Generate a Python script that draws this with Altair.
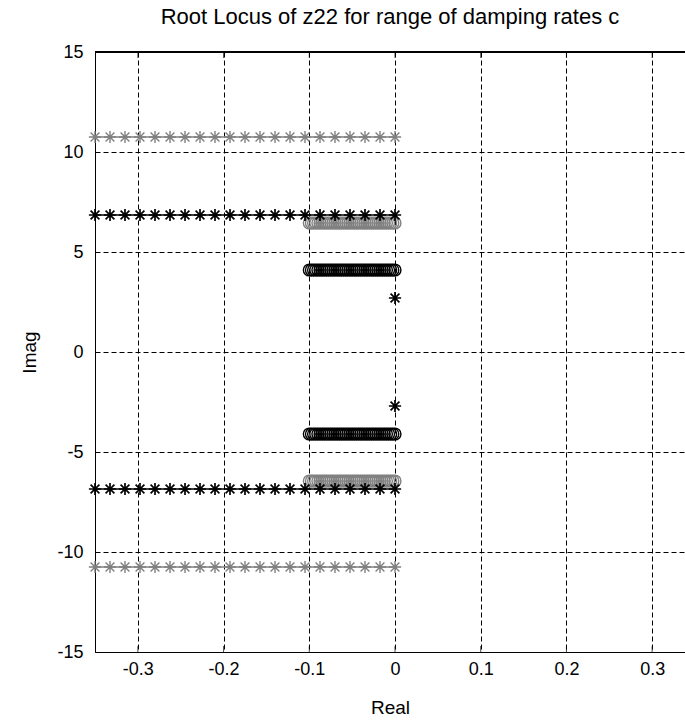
import altair as alt
import pandas as pd

# ---- data ----
star_re = [-0.35, -0.3325, -0.315, -0.2975, -0.28, -0.2625, -0.245, -0.2275, -0.21,
           -0.1925, -0.175, -0.1575, -0.14, -0.1225, -0.105, -0.0875, -0.07, -0.0525,
           -0.035, -0.0175, 0.0]
circle_re = [-0.1, -0.0975, -0.095, -0.0925, -0.09, -0.0875, -0.085, -0.0825, -0.08, -0.0775,
             -0.075, -0.0725, -0.07, -0.0675, -0.065, -0.0625, -0.06, -0.0575, -0.055, -0.0525,
             -0.05, -0.0475, -0.045, -0.0425, -0.04, -0.0375, -0.035, -0.0325, -0.03, -0.0275,
             -0.025, -0.0225, -0.02, -0.0175, -0.015, -0.0125, -0.01, -0.0075, -0.005, -0.0025, 0.0]
gray_star_im = 10.75
black_star_im = 6.85
gray_circle_im = 6.45
black_circle_im = 4.1
lone_star_re = [0.0]
lone_star_im = 2.7
x_ticks = [-0.3, -0.2, -0.1, 0, 0.1, 0.2, 0.3]
y_ticks = [-15, -10, -5, 0, 5, 10, 15]

GRAY = "#808080"
BLACK = "#000000"

rows = []
for sign, tag in ((1, "p"), (-1, "n")):
    for r in star_re:
        rows.append(dict(re=r, im=sign * gray_star_im, grp="gs" + tag, kind="gstar"))
    for r in star_re:
        rows.append(dict(re=r, im=sign * black_star_im, grp="bs" + tag, kind="bstar"))
    for r in circle_re:
        rows.append(dict(re=r, im=sign * gray_circle_im, grp="gc" + tag, kind="gcirc"))
    for r in circle_re:
        rows.append(dict(re=r, im=sign * black_circle_im, grp="bc" + tag, kind="bcirc"))
    for r in lone_star_re:
        rows.append(dict(re=r, im=sign * lone_star_im, grp="ls" + tag, kind="lstar"))
df = pd.DataFrame(rows)
tick_df = pd.DataFrame({"re": x_ticks})

W, H = 590, 600
xs = alt.Scale(domain=[-0.35, 0.33833], nice=False, zero=False)
ys = alt.Scale(domain=[-15, 15], nice=False, zero=False)

STAR = "M-1,0L1,0M0,-1L0,1M-0.72,-0.72L0.72,0.72M-0.72,0.72L0.72,-0.72"
FONT = "Liberation Sans"


def X():
    return alt.X("re:Q", scale=xs, axis=alt.Axis(values=x_ticks, labelExpr="toString(datum.value)",
                                                 title="Real", grid=True, ticks=False))


def Y():
    return alt.Y("im:Q", scale=ys, axis=alt.Axis(values=y_ticks, labelExpr="toString(datum.value)",
                                                 title="Imag", grid=True, ticks=False))


def sel(kinds):
    return alt.Chart(df).transform_filter(alt.FieldOneOfPredicate(field="kind", oneOf=kinds))


gray_line = sel(["gstar"]).mark_line(color=GRAY, strokeWidth=1.3).encode(x=X(), y=Y(), detail="grp:N")
black_line = sel(["bstar"]).mark_line(color=BLACK, strokeWidth=1.5).encode(x=X(), y=Y(), detail="grp:N")

gray_circ = sel(["gcirc"]).mark_point(shape="circle", filled=False, size=140, strokeWidth=1.4,
                                      opacity=1, color=GRAY).encode(x=X(), y=Y())
black_circ = sel(["bcirc"]).mark_point(shape="circle", filled=False, size=140, strokeWidth=1.4,
                                       opacity=1, color=BLACK).encode(x=X(), y=Y())
gray_star = sel(["gstar"]).mark_point(shape=STAR, filled=False, size=150, strokeWidth=1.4,
                                      opacity=1, color=GRAY).encode(x=X(), y=Y())
black_star = sel(["bstar", "lstar"]).mark_point(shape=STAR, filled=False, size=150, strokeWidth=1.7,
                                                opacity=1, color=BLACK).encode(x=X(), y=Y())

top_ticks = alt.Chart(tick_df).mark_tick(color="black", size=6, thickness=1, orient="vertical").encode(
    x=X(), y=alt.value(3))
bottom_ticks = alt.Chart(tick_df).mark_tick(color="black", size=6, thickness=1, orient="vertical").encode(
    x=X(), y=alt.value(H - 3))
top_border = alt.Chart(tick_df).mark_rule(color="black", strokeWidth=1).encode(
    x=alt.value(0), x2=alt.value(W), y=alt.value(0))

chart = alt.layer(gray_line, black_line, gray_circ, black_circ, gray_star, black_star,
                  top_ticks, bottom_ticks, top_border).properties(
    width=W,
    height=H,
    title=alt.TitleParams("Root Locus of z22 for range of damping rates c", font=FONT,
                          fontSize=22, fontWeight="normal", color="black", offset=14,
                          anchor="middle"),
    autosize=alt.AutoSizeParams(type="none"),
    padding={"left": 95, "top": 52, "right": 0, "bottom": 72},
).configure_view(
    stroke="transparent"
).configure_axis(
    domainColor="black", domainWidth=1,
    gridColor="black", gridDash=[5, 3], gridWidth=1, gridOpacity=1,
    labelFont=FONT, labelFontSize=18, labelColor="black", labelPadding=8,
    titleFont=FONT, titleFontSize=19, titleFontWeight="normal", titleColor="black",
).configure_axisY(
    labelPadding=12, titlePadding=17
).configure_axisX(
    titlePadding=20
)

chart.save("out.html", embed_options={"renderer": "svg", "actions": False})
